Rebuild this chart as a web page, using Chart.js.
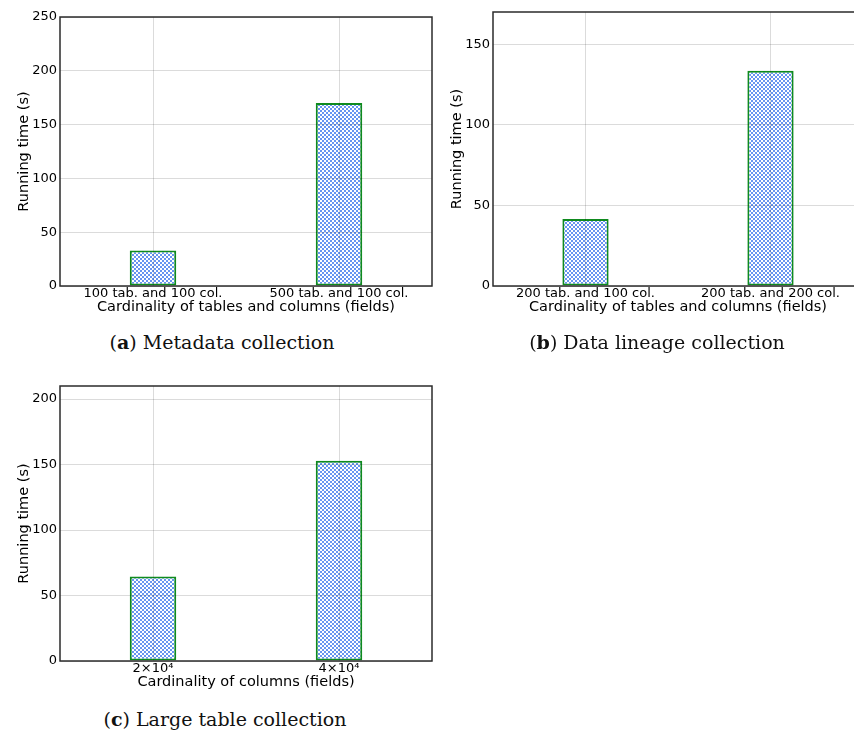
<!DOCTYPE html>
<html>
<head>
<meta charset="utf-8">
<script src="https://cdn.jsdelivr.net/npm/chart.js@4.4.1/dist/chart.umd.min.js"></script>
<style>
    body { margin: 0; background: #fff; }
    #page { position: relative; width: 854px; height: 733px; overflow: hidden; }
    canvas { position: absolute; }
    .caption {
        position: absolute;
        font-family: "DejaVu Serif", serif;
        font-size: 19px;
        color: #111;
        white-space: nowrap;
        transform: translate(-50%, -50%);
    }
</style>
</head>
<body>
<div id="page">
    <canvas id="metaChart" width="440" height="320" style="left:0px;top:0px"></canvas>
    <canvas id="lineageChart" width="438" height="320" style="left:433px;top:0px"></canvas>
    <canvas id="largeChart" width="440" height="326" style="left:0px;top:369px"></canvas>
    <div class="caption" style="left:222px;top:342px">(<b>a</b>) Metadata collection</div>
    <div class="caption" style="left:657px;top:342px">(<b>b</b>) Data lineage collection</div>
    <div class="caption" style="left:225px;top:719px">(<b>c</b>) Large table collection</div>
</div>
<script>
const metaLabels = ['100 tab. and 100 col.', '500 tab. and 100 col.'];
const metaTimes = [33, 170];
const metaMax = 250;

const lineageLabels = ['200 tab. and 100 col.', '200 tab. and 200 col.'];
const lineageTimes = [41.5, 133.5];
const lineageMax = 170;

const largeLabels = ['2×10⁴', '4×10⁴'];
const largeTimes = [64.5, 153];
const largeMax = 210;

const tickFont = { family: 'DejaVu Sans', size: 13 };
const titleFont = { family: 'DejaVu Sans', size: 14.5 };
const gridColor = 'rgba(0, 0, 0, 0.14)';

// small checker tile to mimic the hatched fill
function hatchPattern() {
    const tile = document.createElement('canvas');
    tile.width = 4;
    tile.height = 4;
    const c = tile.getContext('2d');
    c.fillStyle = '#6795f1';
    c.fillRect(0, 0, 4, 4);
    c.fillStyle = '#ffffff';
    c.fillRect(0, 0, 2, 2);
    c.fillRect(2, 2, 2, 2);
    return c.createPattern(tile, 'repeat');
}

// box around the plot area, like the matplotlib spines
const frame = {
    id: 'frame',
    afterDraw(chart) {
        const a = chart.chartArea;
        const ctx = chart.ctx;
        ctx.save();
        ctx.strokeStyle = '#2b2b2b';
        ctx.lineWidth = 1.5;
        ctx.strokeRect(a.left, a.top, a.right - a.left, a.bottom - a.top);
        ctx.restore();
    }
};

function makeChart(id, labels, values, yMax, xTitle, topPad) {
    const ctx = document.getElementById(id).getContext('2d');
    return new Chart(ctx, {
        type: 'bar',
        data: {
            labels: labels,
            datasets: [{
                data: values,
                backgroundColor: hatchPattern(),
                borderColor: '#0f8a1e',
                borderWidth: 2,
                borderSkipped: false,
                categoryPercentage: 1,
                barPercentage: 0.25
            }]
        },
        options: {
            responsive: false,
            animation: false,
            layout: { padding: { top: topPad, right: 8, left: 0, bottom: 0 } },
            plugins: { legend: { display: false }, tooltip: { enabled: false } },
            scales: {
                x: {
                    grid: { offset: false, color: gridColor, drawTicks: false, z: 1 },
                    border: { display: false },
                    ticks: { font: tickFont, color: '#000', padding: 0, maxRotation: 0 },
                    title: { display: true, text: xTitle, font: titleFont, color: '#000', padding: { top: 0, bottom: 4 } },
                    afterFit(scale) { scale.height = 34; }
                },
                y: {
                    min: 0,
                    max: yMax,
                    grid: { color: gridColor, drawTicks: false, z: 1 },
                    border: { display: false },
                    ticks: { stepSize: 50, includeBounds: false, font: tickFont, color: '#000', padding: 3 },
                    title: { display: true, text: 'Running time (s)', font: titleFont, color: '#000', padding: { top: 16, bottom: 0 } },
                    afterFit(scale) { scale.width = 60; }
                }
            }
        },
        plugins: [frame]
    });
}

makeChart('metaChart', metaLabels, metaTimes, metaMax, 'Cardinality of tables and columns (fields)', 17);
makeChart('lineageChart', lineageLabels, lineageTimes, lineageMax, 'Cardinality of tables and columns (fields)', 12);
makeChart('largeChart', largeLabels, largeTimes, largeMax, 'Cardinality of columns (fields)', 17);
</script>
</body>
</html>
